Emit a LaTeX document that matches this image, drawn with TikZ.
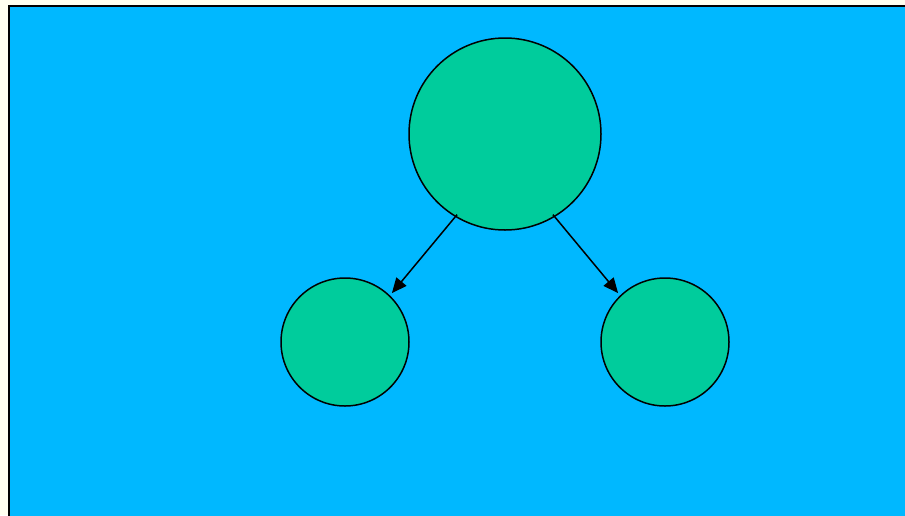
\documentclass[tikz,border=0pt]{standalone}
\usetikzlibrary{arrows.meta}
\definecolor{pagebg}{HTML}{FFFFF0}
\definecolor{skyfill}{HTML}{00B8FF}
\definecolor{nodegreen}{HTML}{00CC9C}
\begin{document}
\begin{tikzpicture}[x=1pt,y=-1pt,
  ball/.style={circle,draw=black,line width=1.5pt,fill=nodegreen,inner sep=0pt},
  link/.style={line width=1.5pt,-{Triangle[length=15pt,width=13pt]},shorten >=3pt,shorten <=-3pt}]
  \useasboundingbox (0,0) rectangle (905,515);
  \fill[pagebg] (0,0) rectangle (905,515);
  \draw[fill=skyfill,line width=2pt] (9,6) rectangle (915,525);
  \node[ball,minimum size=192pt] (root) at (505,134) {};
  \node[ball,minimum size=128pt] (left) at (345,342) {};
  \node[ball,minimum size=128pt] (right) at (665,342) {};
  \draw[link] (root.239) -- (left.46);
  \draw[link] (root.301) -- (right.134);
\end{tikzpicture}
\end{document}
